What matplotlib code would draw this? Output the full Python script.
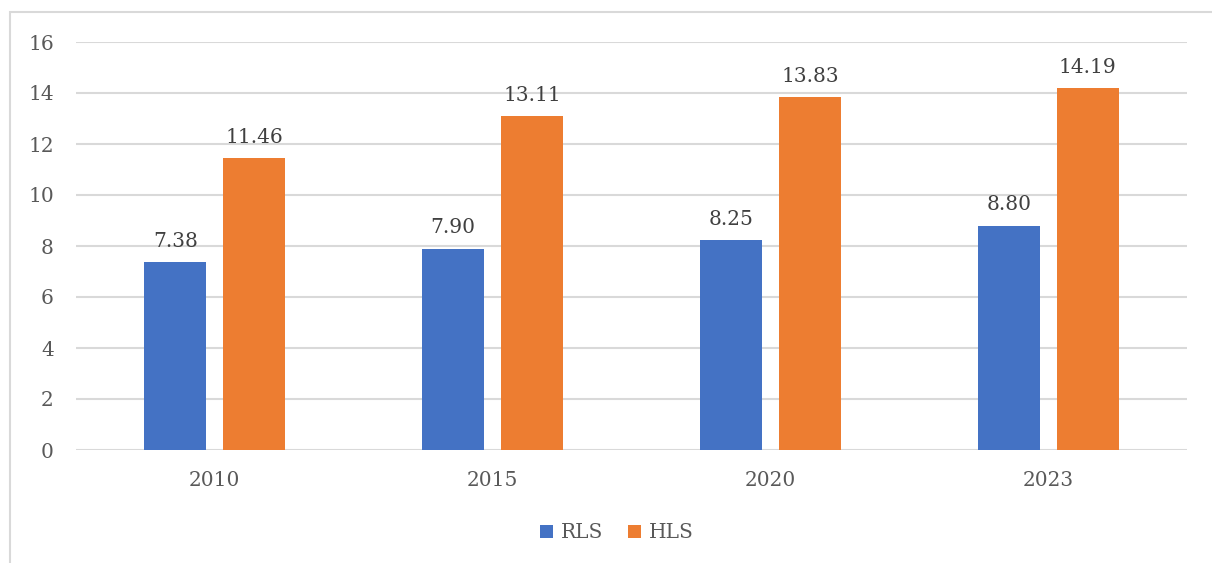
import matplotlib.pyplot as plt
import numpy as np
from matplotlib.patches import Rectangle

# chart data
years = ['2010', '2015', '2020', '2023']
rls = [7.38, 7.90, 8.25, 8.80]
hls = [11.46, 13.11, 13.83, 14.19]
yticks = [0, 2, 4, 6, 8, 10, 12, 14, 16]

plt.rcParams['font.family'] = ['DejaVu Serif']

fig = plt.figure(figsize=(12.12, 5.63), dpi=100)
ax = fig.add_axes([76 / 1212, 1 - 450 / 563, 1111 / 1212, 408 / 563])

# light grey chart border (right and bottom run off the picture)
fig.patches.append(Rectangle((10 / 1212, -0.5), 2.0, 1 - 12 / 563 + 0.5,
                             transform=fig.transFigure, fill=False,
                             edgecolor='#D9D9D9', linewidth=1.5))

x = np.arange(len(years))
w = 0.223
off = 0.142
b1 = ax.bar(x - off, rls, w, color='#4472C4', label='RLS', zorder=3)
b2 = ax.bar(x + off, hls, w, color='#ED7D31', label='HLS', zorder=3)

for bars in (b1, b2):
    for bar in bars:
        h = bar.get_height()
        ax.annotate(f'{h:.2f}', (bar.get_x() + bar.get_width() / 2, h),
                    xytext=(0, 8), textcoords='offset points',
                    ha='center', va='bottom', fontsize=14.5, color='#404040')

ax.set_xlim(-0.5, len(years) - 0.5)
ax.set_ylim(0, 16)
ax.set_yticks(yticks)
ax.set_xticks(x)
ax.set_xticklabels(years)
ax.tick_params(axis='both', length=0, labelsize=14.5, colors='#595959')
ax.tick_params(axis='y', pad=16)
ax.tick_params(axis='x', pad=15)
ax.grid(axis='y', color='#D9D9D9', linewidth=1.5, zorder=0)
for s in ax.spines.values():
    s.set_visible(False)

fig.legend(loc='center', bbox_to_anchor=(617 / 1212, 1 - 533 / 563), ncol=2,
           frameon=False, fontsize=14.5, handlelength=0.65, handleheight=0.65,
           handletextpad=0.4, columnspacing=1.2, labelcolor='#595959')

fig.savefig('out.png', dpi=100)
